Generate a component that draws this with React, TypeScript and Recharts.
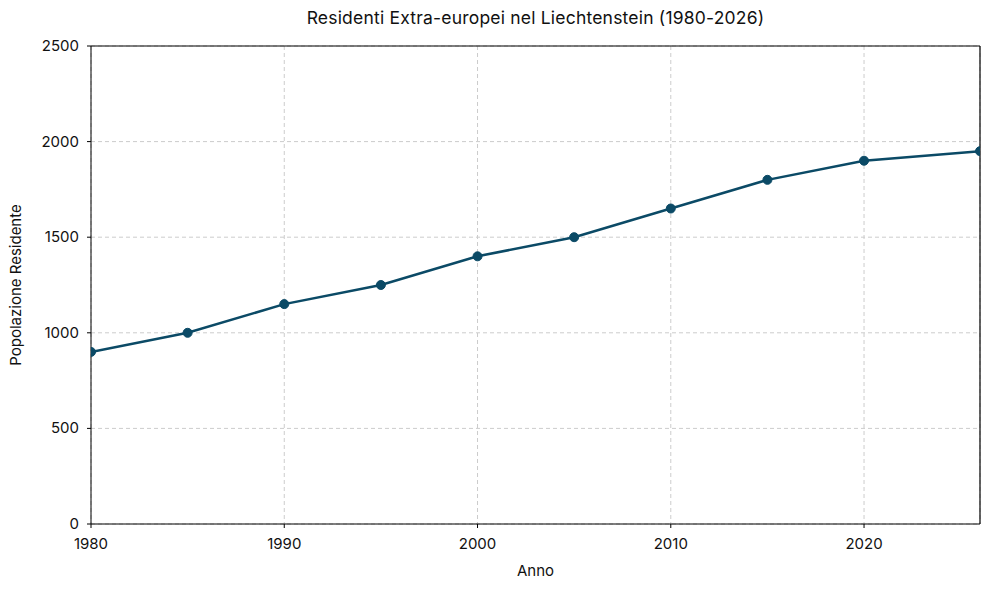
import React from "react";
import { LineChart, Line, XAxis, YAxis, CartesianGrid, Label, ReferenceLine } from "recharts";

const years = [1980, 1985, 1990, 1995, 2000, 2005, 2010, 2015, 2020, 2026];
const residents = [900, 1000, 1150, 1250, 1400, 1500, 1650, 1800, 1900, 1950];
const xTicks = [1980, 1990, 2000, 2010, 2020];
const yTicks = [0, 500, 1000, 1500, 2000, 2500];

const data = years.map((year, i) => ({ year, residents: residents[i] }));

const font = "Inter, 'Open Sans', sans-serif";

function XTick(props: any) {
  const { x, y, payload } = props;
  return (
    <text x={x} y={y + 19} textAnchor="middle" fontSize={15} fill="#111" fontFamily={font}>
      {payload.value}
    </text>
  );
}

function YTick(props: any) {
  const { x, y, payload } = props;
  return (
    <text x={x - 6} y={y + 5} textAnchor="end" fontSize={15} fill="#111" fontFamily={font}>
      {payload.value}
    </text>
  );
}

export default function App() {
  return (
    <div style={{ position: "absolute", left: 0, top: 0, width: 990, height: 590, background: "#fff", fontFamily: font }}>
      <div
        style={{
          position: "absolute",
          top: 7,
          left: 91,
          width: 889,
          textAlign: "center",
          fontSize: 17.5,
          color: "#111",
          letterSpacing: 0.2,
        }}
      >
        Residenti Extra-europei nel Liechtenstein (1980-2026)
      </div>
      <LineChart width={990} height={590} data={data} margin={{ top: 46, right: 10, bottom: 0, left: 0 }}>
        <CartesianGrid stroke="#cccccc" strokeDasharray="4 3" />
        <XAxis
          dataKey="year"
          type="number"
          domain={[1980, 2026]}
          ticks={xTicks}
          allowDataOverflow
          height={66}
          tick={<XTick />}
          tickSize={4}
          stroke="#000"
          axisLine={{ stroke: "#000" }}
          tickLine={{ stroke: "#000" }}
        >
          <Label value="Anno" position="insideBottom" offset={14} style={{ fontSize: 15, fill: "#111", fontFamily: font }} />
        </XAxis>
        <YAxis
          type="number"
          domain={[0, 2500]}
          ticks={yTicks}
          width={91}
          tick={<YTick />}
          tickSize={4}
          stroke="#000"
          axisLine={{ stroke: "#000" }}
          tickLine={{ stroke: "#000" }}
        >
          <Label
            value="Popolazione Residente"
            angle={-90}
            position="insideLeft"
            offset={16}
            style={{ textAnchor: "middle", fontSize: 15, fill: "#111", fontFamily: font }}
          />
        </YAxis>
        <ReferenceLine y={2500} stroke="#000" strokeWidth={1.2} />
        <ReferenceLine x={2026} stroke="#000" strokeWidth={1.2} />
        <Line
          type="linear"
          dataKey="residents"
          stroke="#0b4a66"
          strokeWidth={2.5}
          dot={{ r: 4.5, fill: "#0b4a66", stroke: "#0b4a66", strokeWidth: 1 }}
          activeDot={false}
          isAnimationActive={false}
        />
      </LineChart>
    </div>
  );
}
